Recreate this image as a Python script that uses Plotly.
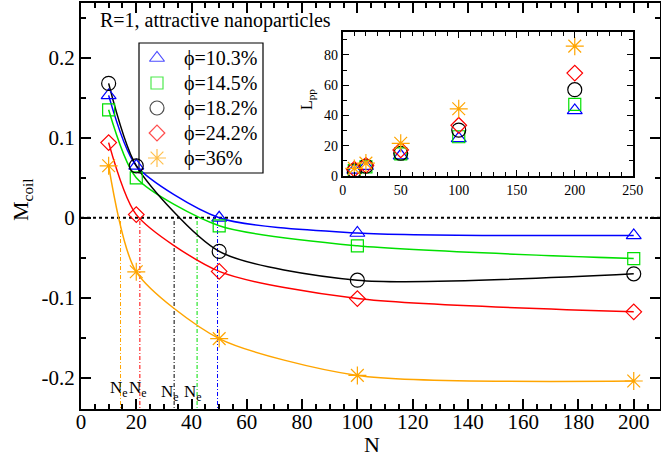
import plotly.graph_objects as go

N = [10, 20, 50, 100, 200]
labels = ["ϕ=10.3%", "ϕ=14.5%", "ϕ=18.2%", "ϕ=24.2%", "ϕ=36%"]
m_blue = [0.153, 0.065, 0.0, -0.019, -0.022]
m_green = [0.135, 0.050, -0.010, -0.035, -0.051]
m_black = [0.168, 0.065, -0.042, -0.078, -0.070]
m_red = [0.094, 0.004, -0.067, -0.101, -0.1175]
m_orange = [0.065, -0.0675, -0.151, -0.197, -0.204]
mcoil = [m_blue, m_green, m_black, m_red, m_orange]

l_blue = [4.0, 6.5, 13.5, 24.8, 43.3]
l_green = [3.5, 6.0, 14.6, 25.9, 47.3]
l_black = [3.5, 6.5, 15.0, 30.3, 57.0]
l_red = [4.5, 7.0, 17.2, 33.5, 68.0]
l_orange = [5.0, 8.5, 21.6, 44.4, 85.8]
lpp = [l_blue, l_green, l_black, l_red, l_orange]

ne_vals = [49.4, 42.0, 33.7, 21.3, 14.3]
ne_label_x = [40.5, 32.2, 20.8, 13.6]
ne_label_y = [-0.219, -0.219, -0.214, -0.214]

x_ticks = [0, 20, 40, 60, 80, 100, 120, 140, 160, 180, 200]
y_ticks = [-0.2, -0.1, 0, 0.1, 0.2]
y_ticktext = ["-0.2", "-0.1", "0", "0.1", "0.2"]

colors = ["#0000ff", "#00e000", "#000000", "#ff0000", "#ffa500"]
symbols = ["triangle-up-open", "square-open", "circle-open", "diamond-open", "asterisk-open"]
sizes = [13, 12, 14, 12, 15]

FF = "Liberation Serif, Times New Roman, serif"
W, H = 661, 456
ML, MR, MT, MB = 81, 1, 3, 47
PW, PH = W - ML - MR, H - MT - MB


def px2paper(px, py):
    return (px - ML) / PW, (H - MB - py) / PH


fig = go.Figure()

# Ne vertical lines
for ne, c in zip(ne_vals, colors):
    fig.add_trace(go.Scatter(x=[ne, ne], y=[-0.004, -0.24], mode="lines",
                             line=dict(color=c, width=1, dash="4px,2px,1px,2px"),
                             showlegend=False, hoverinfo="skip"))

# fitted curves
for ys, c in zip(mcoil, colors):
    fig.add_trace(go.Scatter(x=N, y=ys, mode="lines",
                             line=dict(color=c, width=1.5, shape="spline", smoothing=0.7),
                             showlegend=False, hoverinfo="skip"))

# markers
for ys, c, s, sz, lab in zip(mcoil, colors, symbols, sizes, labels):
    fig.add_trace(go.Scatter(x=N, y=ys, mode="markers", name=lab, showlegend=False,
                             marker=dict(symbol=s, size=sz, color=c,
                                         line=dict(color=c, width=1.2))))

# inset
for ys, c, s, sz in zip(lpp, colors, symbols, sizes):
    fig.add_trace(go.Scatter(x=N, y=ys, mode="markers", xaxis="x2", yaxis="y2",
                             marker=dict(symbol=s, size=sz, color=c,
                                         line=dict(color=c, width=1.2)),
                             showlegend=False))

# manual legend on pixel-mapped overlay axis
leg_left, leg_top, leg_right, leg_bottom = 139, 43, 263, 173
leg_sym_x, leg_txt_x, leg_y0, leg_dy = 157, 182, 58, 25
fig.add_trace(go.Scatter(
    x=[leg_sym_x] * len(labels), y=[leg_y0 + i * leg_dy for i in range(len(labels))],
    mode="markers", xaxis="x3", yaxis="y3", showlegend=False, hoverinfo="skip",
    marker=dict(symbol=symbols, size=sizes, color=colors,
                line=dict(color=colors, width=1.2))))

axis_common = dict(showline=True, linecolor="black", linewidth=2, mirror="allticks",
                   ticks="inside", tickcolor="black", showgrid=False, zeroline=False)

fig.update_layout(
    template="none",
    width=W, height=H,
    margin=dict(l=ML, r=MR, t=MT, b=MB),
    plot_bgcolor="white", paper_bgcolor="white",
    font=dict(family=FF, size=20, color="black"),
    showlegend=False,
    xaxis=dict(range=[0, 209.5], tickvals=x_ticks,
               ticklen=10, tickwidth=1.5, ticklabelstandoff=-7,
               minor=dict(dtick=5, tick0=0, ticklen=5, ticks="inside", tickcolor="black"),
               tickfont=dict(size=21, family=FF), **axis_common),
    yaxis=dict(range=[-0.239, 0.2685], tickvals=y_ticks, ticktext=y_ticktext,
               ticklen=10, tickwidth=1.5,
               minor=dict(dtick=0.05, tick0=0, ticklen=5, ticks="inside", tickcolor="black"),
               tickfont=dict(size=21, family=FF), **axis_common),
    xaxis2=dict(domain=[0.452, 0.953], anchor="y2", range=[0, 250], dtick=50,
                ticklen=6, tickwidth=1,
                minor=dict(dtick=10, tick0=0, ticklen=4, ticks="inside", tickcolor="black"),
                tickfont=dict(size=14, family=FF), **axis_common),
    yaxis2=dict(domain=[0.574, 0.928], anchor="x2", range=[0, 95], dtick=20,
                ticklen=6, tickwidth=1,
                minor=dict(dtick=10, tick0=0, ticklen=4, ticks="inside", tickcolor="black"),
                tickfont=dict(size=14, family=FF), **axis_common),
    xaxis3=dict(domain=[0, 1], anchor="y3", overlaying="x", range=[ML, W - MR],
                visible=False, fixedrange=True),
    yaxis3=dict(domain=[0, 1], anchor="x3", overlaying="y", range=[H - MB, MT],
                visible=False, fixedrange=True),
)

shapes = [
    dict(type="line", xref="paper", yref="y", x0=0, x1=1, y0=0, y1=0,
         line=dict(color="black", width=2, dash="dot"), layer="below"),
    dict(type="rect", xref="x3", yref="y3", x0=leg_left, x1=leg_right,
         y0=leg_top, y1=leg_bottom, line=dict(color="black", width=1.2),
         fillcolor="white", layer="below"),
]
fig.update_layout(shapes=shapes)

ann = []
tx, ty = px2paper(98, 20)
ann.append(dict(text="R=1, attractive nanoparticles", xref="paper", yref="paper",
                x=tx, y=ty, xanchor="left", yanchor="middle", showarrow=False,
                font=dict(size=20, family=FF)))
nx, ny = px2paper(372, 444)
ann.append(dict(text="N", xref="paper", yref="paper", x=nx, y=ny,
                xanchor="center", yanchor="middle", showarrow=False,
                font=dict(size=22, family=FF)))
mx, my = px2paper(22, 200)
ann.append(dict(text="M<sub>coil</sub>", xref="paper", yref="paper", x=mx, y=my,
                xanchor="center", yanchor="middle", textangle=-90, showarrow=False,
                font=dict(size=22, family=FF)))
ann.append(dict(text="L<sub>pp</sub>", xref="x3", yref="y3", x=307, y=100,
                xanchor="center", yanchor="middle", textangle=-90,
                showarrow=False, font=dict(size=16, family=FF)))
for i, lab in enumerate(labels):
    ann.append(dict(text=lab, xref="x3", yref="y3", x=leg_txt_x, y=leg_y0 + i * leg_dy,
                    xanchor="left", yanchor="middle", showarrow=False,
                    font=dict(size=20, family=FF)))
for xx, yy in zip(ne_label_x, ne_label_y):
    ann.append(dict(text="N<sub>e</sub>", x=xx, y=yy, xref="x", yref="y",
                    xanchor="center", yanchor="middle", showarrow=False,
                    font=dict(size=17, family=FF)))
fig.update_layout(annotations=ann)

fig.write_html("out.html")
